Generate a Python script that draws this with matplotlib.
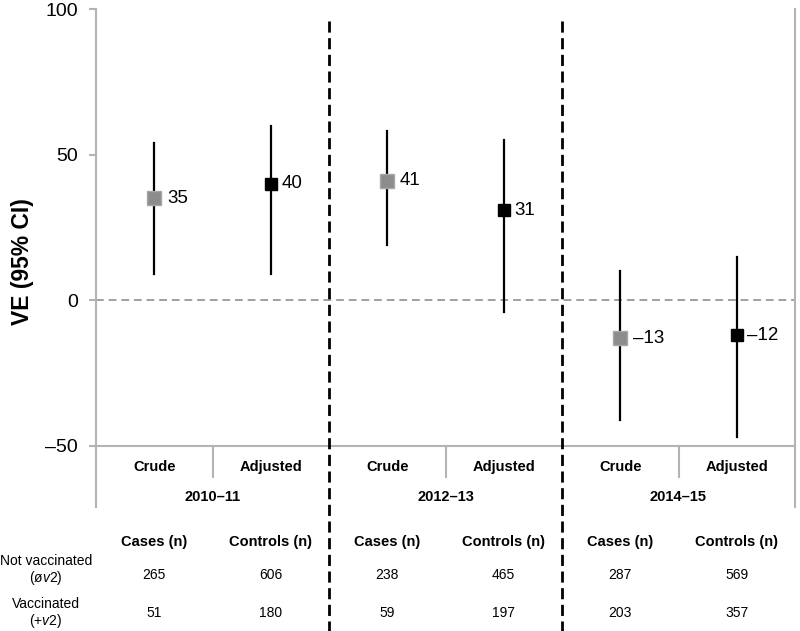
import matplotlib
matplotlib.use("Agg")
import matplotlib.pyplot as plt

plt.rcParams['font.family'] = ['Liberation Sans', 'DejaVu Sans']
plt.rcParams['mathtext.fontset'] = 'custom'
plt.rcParams['mathtext.rm'] = 'Liberation Sans'
plt.rcParams['mathtext.it'] = 'Liberation Sans:italic'

# data
seasons = ['2010\u201311', '2012\u201313', '2014\u201315']
estimates = ['Crude', 'Adjusted']
ve = [35, 40, 41, 31, -13, -12]
ci_low = [9, 9, 19, -4, -41, -47]
ci_high = [54, 60, 58, 55, 10, 15]
cases_not_vacc = [265, 238, 287]
controls_not_vacc = [606, 465, 569]
cases_vacc = [51, 59, 203]
controls_vacc = [180, 197, 357]

grey = '#8c8c8c'
axis_grey = '#b3b3b3'

fig = plt.figure(figsize=(8, 6.31), dpi=100)
ax = fig.add_axes([0.12, 0.2932, 0.87375, 0.6925])
ax.set_xlim(0, 6)
ax.set_ylim(-50, 100)

# zero reference line
ax.axhline(0, color='#a0a0a0', lw=1.4, ls=(0, (4, 2.5)), zorder=1)

xs = [i + 0.5 for i in range(6)]
for i, x in enumerate(xs):
    crude = i % 2 == 0
    ax.plot([x, x], [ci_low[i], ci_high[i]], color='black', lw=1.6, zorder=2)
    if crude:
        ax.plot(x, ve[i], marker='s', ms=10, mfc=grey, mec='#a8a8a8', mew=1, zorder=3)
        off = 0.11
    else:
        ax.plot(x, ve[i], marker='s', ms=8.5, mfc='black', mec='black', zorder=3)
        off = 0.09
    lab = str(ve[i]).replace('-', '\u2013')
    ax.text(x + off, ve[i], lab, fontsize=13.5, va='center', ha='left')

# spines
for s in ['top', 'bottom']:
    ax.spines[s].set_visible(False)
ax.spines['left'].set_color(axis_grey)
ax.spines['right'].set_color(axis_grey)
ax.spines['left'].set_linewidth(1.5)
ax.spines['right'].set_linewidth(1.5)
ax.axhline(-50, color=axis_grey, lw=1.5, clip_on=False)

ax.set_xticks([])
ax.set_yticks([-50, 0, 50, 100])
ax.set_yticklabels(['\u201350', '0', '50', '100'], fontsize=14)
ax.tick_params(axis='y', colors=axis_grey, length=5, width=1.5, labelcolor='black', pad=8)
ax.set_ylabel('VE (95% CI)', fontsize=16.5, fontweight='bold')
ax.yaxis.set_label_coords(-0.089, 0.421)

# category axis structure below the plot
for g in [0, 6]:
    ax.plot([g, g], [-50, -70.9], color=axis_grey, lw=1.5, clip_on=False)
for g in [1, 3, 5]:
    ax.plot([g, g], [-50, -60.6], color=axis_grey, lw=1.5, clip_on=False)

# dashed season separators
for g in [2, 4]:
    ax.plot([g, g], [96, -115], color='black', lw=2, ls=(0, (4, 2)), clip_on=False, zorder=4)

for i, x in enumerate(xs):
    ax.text(x, -57.2, estimates[i % 2], fontsize=10.5, fontweight='bold',
            ha='center', va='center', clip_on=False)
for j, s in enumerate(seasons):
    ax.text(2 * j + 1, -67.5, s, fontsize=10.5, fontweight='bold',
            ha='center', va='center', clip_on=False)
    ax.text(2 * j + 0.5, -82.9, 'Cases (n)', fontsize=10.5, fontweight='bold',
            ha='center', va='center', clip_on=False)
    ax.text(2 * j + 1.5, -82.9, 'Controls (n)', fontsize=10.5, fontweight='bold',
            ha='center', va='center', clip_on=False)
    ax.text(2 * j + 0.5, -94.2, str(cases_not_vacc[j]), fontsize=10,
            ha='center', va='center', clip_on=False)
    ax.text(2 * j + 1.5, -94.2, str(controls_not_vacc[j]), fontsize=10,
            ha='center', va='center', clip_on=False)
    ax.text(2 * j + 0.5, -107.2, str(cases_vacc[j]), fontsize=10,
            ha='center', va='center', clip_on=False)
    ax.text(2 * j + 1.5, -107.2, str(controls_vacc[j]), fontsize=10,
            ha='center', va='center', clip_on=False)

ax.text(-0.43, -92.8, 'Not vaccinated\n(\u00f8$\\mathit{v2}$)', fontsize=10,
        ha='center', va='center', linespacing=1.1, clip_on=False)
ax.text(-0.43, -107.5, 'Vaccinated\n(+$\\mathit{v2}$)', fontsize=10,
        ha='center', va='center', linespacing=1.1, clip_on=False)

fig.savefig('out.png', dpi=100)
